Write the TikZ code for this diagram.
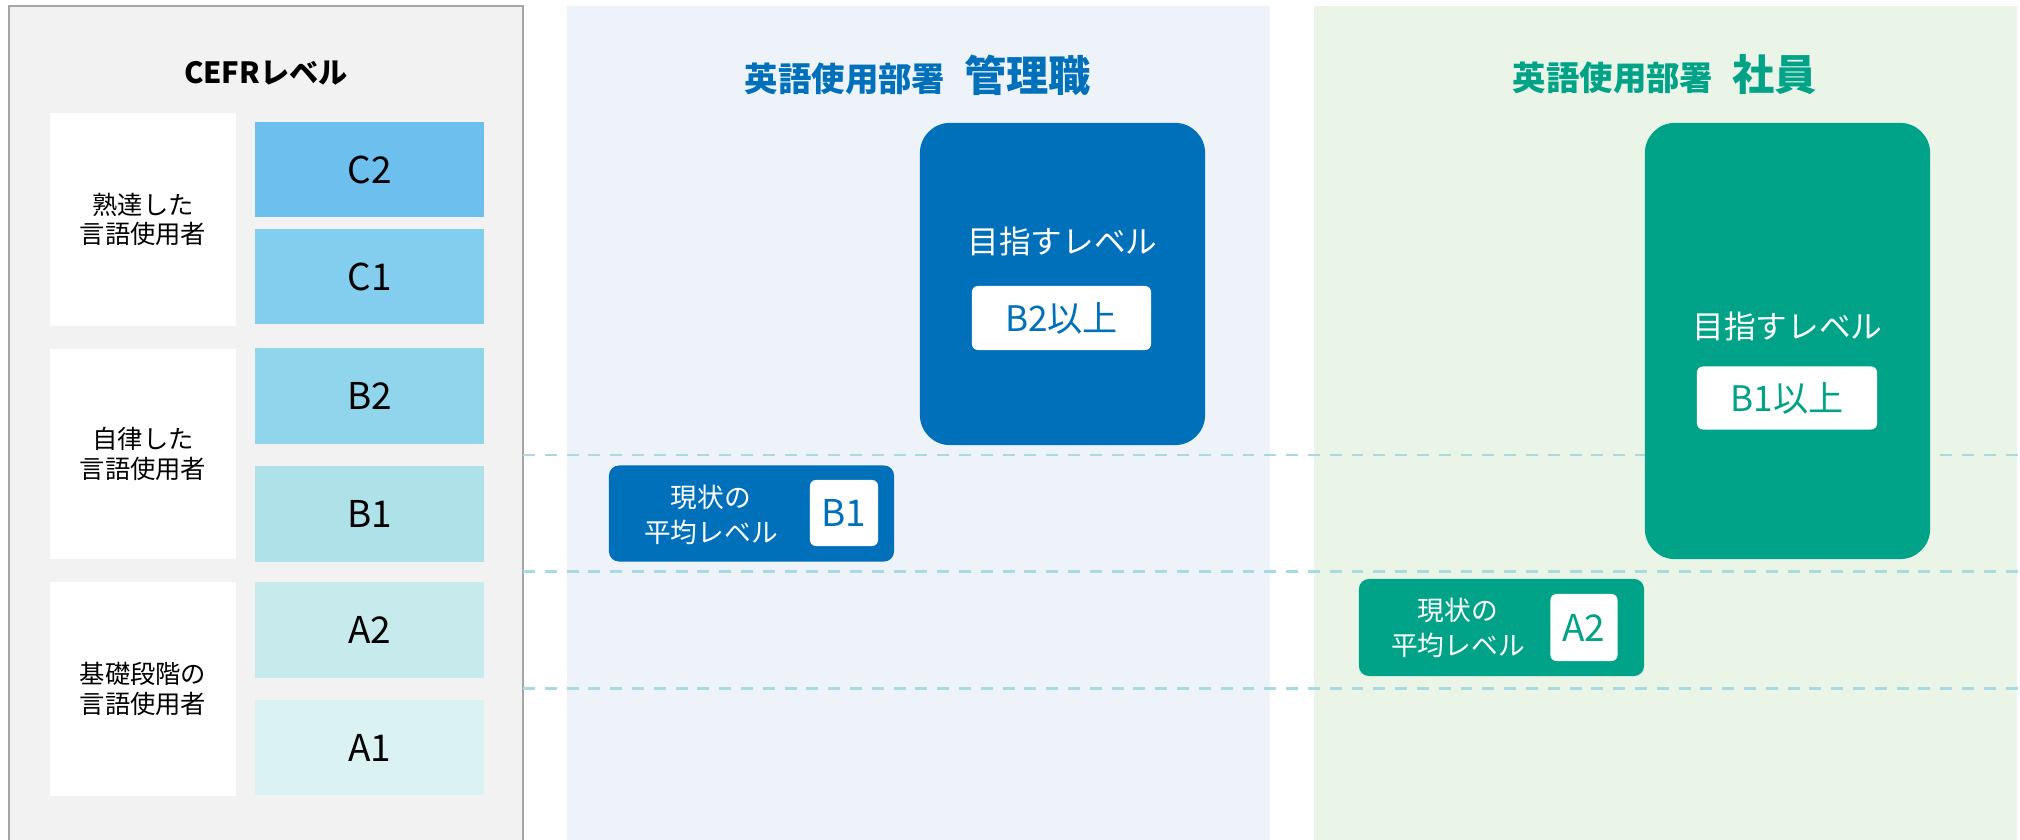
\documentclass[tikz,border=0pt]{standalone}
\usepackage{fontspec}
\setmainfont{Noto Sans CJK JP}
\usetikzlibrary{positioning}

\definecolor{panelgray}{HTML}{F2F2F2}
\definecolor{panelline}{HTML}{A6A6A6}
\definecolor{lvC2}{HTML}{6DBFEE}
\definecolor{lvC1}{HTML}{83CDEE}
\definecolor{lvB2}{HTML}{91D5EC}
\definecolor{lvB1}{HTML}{AEE1E8}
\definecolor{lvA2}{HTML}{C7EBEC}
\definecolor{lvA1}{HTML}{DAF2F2}
\definecolor{mgrbg}{HTML}{EEF3FA}
\definecolor{staffbg}{HTML}{EAF5E8}
\definecolor{mgrblue}{HTML}{0070BA}
\definecolor{staffgreen}{HTML}{00A387}
\definecolor{guidecolor}{HTML}{A8DAE2}

\tikzset{
  grouplabel/.style={fill=white, minimum width=1.86cm, inner sep=0pt, align=center,
    font=\fontsize{7.2}{8.3}\selectfont},
  levelbox/.style={minimum width=2.29cm, minimum height=0.95cm, inner sep=0pt,
    font=\fontsize{10.5}{12}\selectfont},
  guideline/.style={guidecolor, line width=0.7pt, dash pattern=on 3.4pt off 2.8pt},
  goalbox/.style={rounded corners=0.3cm, minimum width=2.85cm, inner sep=0pt},
  goaltext/.style={text=white, font=\fontsize{9}{11}\selectfont},
  nowbox/.style={rounded corners=0.1cm, minimum width=2.85cm, minimum height=0.96cm, inner sep=0pt},
  nowtext/.style={text=white, align=center, font=\fontsize{7.6}{10}\selectfont},
  tagbox/.style={fill=white, rounded corners=0.06cm, inner sep=0pt},
}

\begin{document}
\begin{tikzpicture}[x=0.01cm, y=-0.01cm]
    \useasboundingbox (0,0) rectangle (2020,840);

    % background panels
    \fill[panelgray] (9,6) rectangle (523,850);
    \draw[panelline, line width=0.6pt] (9,850) -- (9,6) -- (523,6) -- (523,850);
    \fill[mgrbg] (567,6) rectangle (1270,850);
    \fill[staffbg] (1314,6) rectangle (2017,850);

    % CEFR column
    \node[font=\bfseries\fontsize{8.3}{10}\selectfont] (cefr) at (266,73) {CEFRレベル};

    \node[grouplabel, minimum height=2.13cm] (proficient) at (143,219.5) {熟達した\\言語使用者};
    \node[grouplabel, minimum height=2.10cm] (independent) at (143,454) {自律した\\言語使用者};
    \node[grouplabel, minimum height=2.14cm] (basic) at (143,689) {基礎段階の\\言語使用者};

    \node[levelbox, fill=lvC2] (c2) at (369.5,169.5) {C2};
    \node[levelbox, fill=lvC1] (c1) at (369.5,276.5) {C1};
    \node[levelbox, fill=lvB2] (b2) at (369.5,396) {B2};
    \node[levelbox, fill=lvB1] (b1) at (369.5,514) {B1};
    \node[levelbox, fill=lvA2] (a2) at (369.5,630) {A2};
    \node[levelbox, fill=lvA1] (a1) at (369.5,747.5) {A1};

    % level borders
    \draw[guideline] (523,455) -- (2020,455);
    \draw[guideline] (523,571.5) -- (2020,571.5);
    \draw[guideline] (523,688.5) -- (2020,688.5);

    % managers
    \node[text=mgrblue, font=\bfseries] (mgrhead) at (918,75)
        {{\fontsize{9.5}{11}\selectfont 英語使用部署}\hspace{5.5pt}{\fontsize{12}{14}\selectfont 管理職}};

    \node[goalbox, fill=mgrblue, minimum height=3.22cm] (mgrgoal) at (1062.5,284) {};
    \node[goaltext] (mgrgoaltxt) at (1062.5,241) {目指すレベル};
    \node[tagbox, minimum width=1.79cm, minimum height=0.64cm, text=mgrblue,
        font=\fontsize{10}{12}\selectfont] (mgrgoaltag) at (1061.5,318) {B2以上};

    \node[nowbox, fill=mgrblue] (mgrnow) at (751.5,513.5) {};
    \node[nowtext] (mgrnowtxt) at (711,515) {現状の\\平均レベル};
    \node[tagbox, minimum width=0.68cm, minimum height=0.66cm, text=mgrblue,
        font=\fontsize{10.5}{12}\selectfont] (mgrnowtag) at (844,513) {B1};

    % staff
    \node[text=staffgreen, font=\bfseries] (staffhead) at (1665,75)
        {{\fontsize{9.5}{11}\selectfont 英語使用部署}\hspace{5.5pt}{\fontsize{12}{14}\selectfont 社員}};

    \node[goalbox, fill=staffgreen, minimum height=4.36cm] (staffgoal) at (1787.5,341) {};
    \node[goaltext] (staffgoaltxt) at (1787.5,326) {目指すレベル};
    \node[tagbox, minimum width=1.80cm, minimum height=0.63cm, text=staffgreen,
        font=\fontsize{10}{12}\selectfont] (staffgoaltag) at (1787,398) {B1以上};

    \node[nowbox, fill=staffgreen, minimum height=0.97cm] (staffnow) at (1501.5,627.5) {};
    \node[nowtext] (staffnowtxt) at (1458,628) {現状の\\平均レベル};
    \node[tagbox, minimum width=0.67cm, minimum height=0.67cm, text=staffgreen,
        font=\fontsize{10.5}{12}\selectfont] (staffnowtag) at (1584,627.5) {A2};
\end{tikzpicture}
\end{document}
